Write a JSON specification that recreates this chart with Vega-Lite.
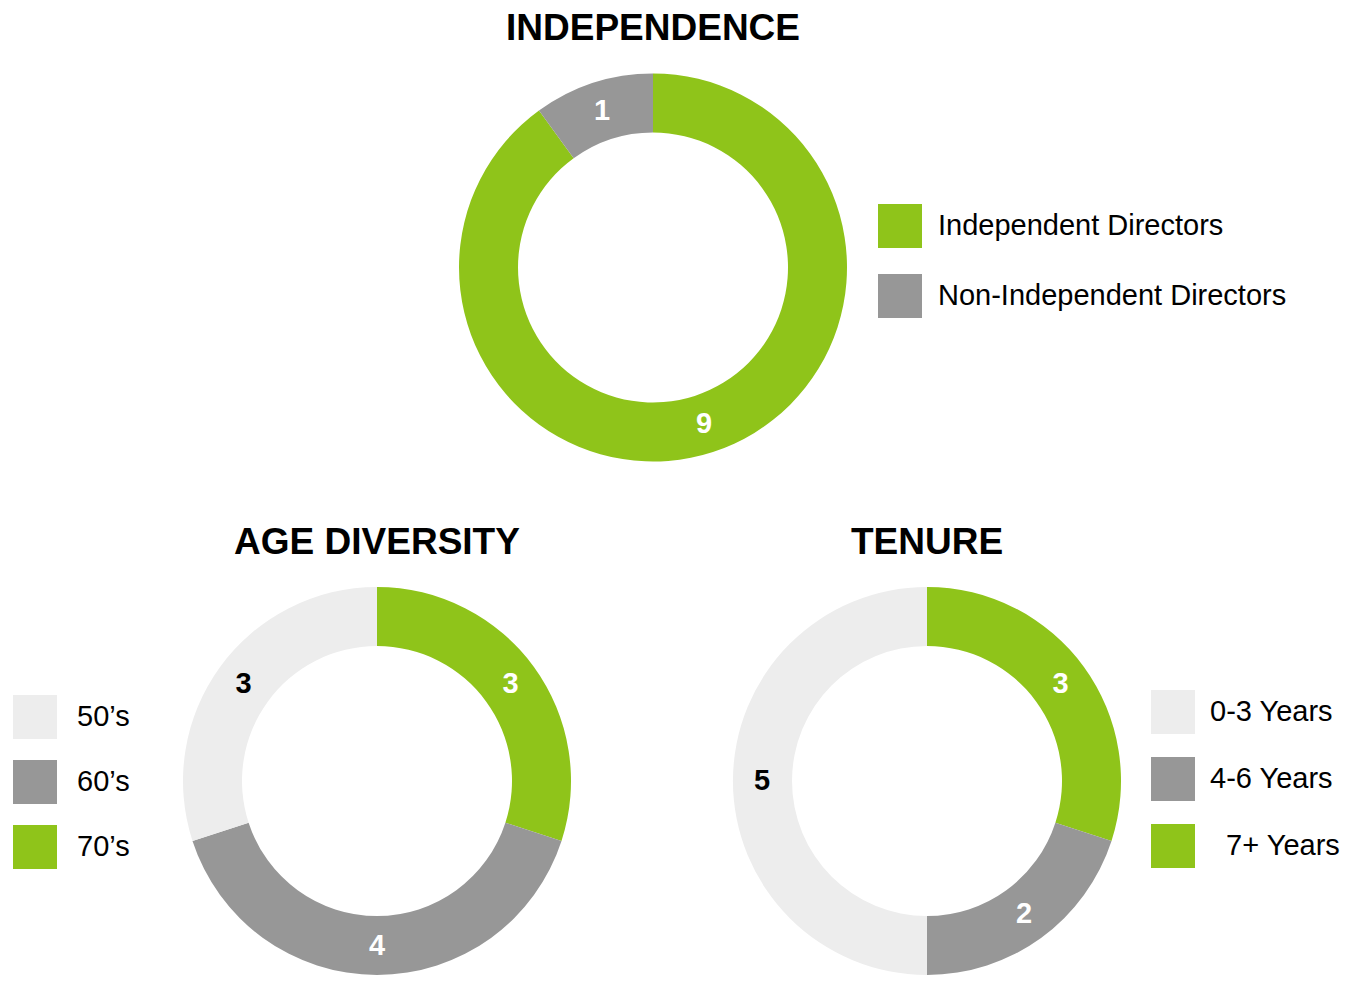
{
  "$schema": "https://vega.github.io/schema/vega-lite/v6.json",
  "background": "white",
  "padding": {"left": 13, "top": 10, "right": 0, "bottom": 0},
  "datasets": {
    "independence": [
      {"category": "Independent Directors", "value": 9, "order": 1},
      {"category": "Non-Independent Directors", "value": 1, "order": 2}
    ],
    "age": [
      {"category": "70’s", "value": 3, "order": 1},
      {"category": "60’s", "value": 4, "order": 2},
      {"category": "50’s", "value": 3, "order": 3}
    ],
    "tenure": [
      {"category": "7+ Years", "value": 3, "order": 1},
      {"category": "4-6 Years", "value": 2, "order": 2},
      {"category": "0-3 Years", "value": 5, "order": 3}
    ]
  },
  "spacing": 62,
  "resolve": {"scale": {"color": "independent", "theta": "independent"}, "legend": {"color": "independent"}},
  "vconcat": [
    {
      "width": 940,
      "height": 389,
      "title": {"text": "INDEPENDENCE"},
      "data": {"name": "independence"},
      "encoding": {
        "theta": {"field": "value", "type": "quantitative", "stack": true},
        "order": {"field": "order", "type": "quantitative"},
        "color": {
          "field": "category",
          "type": "nominal",
          "scale": {"domain": ["Independent Directors", "Non-Independent Directors"], "range": ["#8FC41A", "#979797"]},
          "legend": {"orient": "none", "legendX": 695, "legendY": 131, "rowPadding": 26, "labelOffset": 16}
        }
      },
      "layer": [
        {"mark": {"type": "arc", "innerRadius": 135, "outerRadius": 194}},
        {
          "mark": {"type": "text", "radius": 165, "font": "Liberation Sans", "fontSize": 29, "fontWeight": "bold", "align": "center", "baseline": "middle"},
          "encoding": {"text": {"field": "value", "type": "quantitative"}, "color": {"value": "white"}}
        }
      ]
    },
    {
      "spacing": 162,
      "resolve": {"scale": {"color": "independent", "theta": "independent"}, "legend": {"color": "independent"}},
      "hconcat": [
        {
          "width": 388,
          "height": 388,
          "title": {"text": "AGE DIVERSITY"},
          "data": {"name": "age"},
          "encoding": {
            "theta": {"field": "value", "type": "quantitative", "stack": true},
            "order": {"field": "order", "type": "quantitative"},
            "color": {
              "field": "category",
              "type": "nominal",
              "scale": {"domain": ["50’s", "60’s", "70’s"], "range": ["#EDEDED", "#979797", "#8FC41A"]},
              "legend": {"orient": "none", "legendX": -170, "legendY": 108, "rowPadding": 21, "labelOffset": 20}
            }
          },
          "layer": [
            {"mark": {"type": "arc", "innerRadius": 135, "outerRadius": 194}},
            {
              "mark": {"type": "text", "radius": 165, "font": "Liberation Sans", "fontSize": 29, "fontWeight": "bold", "align": "center", "baseline": "middle"},
              "encoding": {
                "text": {"field": "value", "type": "quantitative"},
                "color": {"condition": {"test": "datum.category === '50’s'", "value": "black"}, "value": "white"}
              }
            }
          ]
        },
        {
          "width": 388,
          "height": 388,
          "title": {"text": "TENURE"},
          "data": {"name": "tenure"},
          "encoding": {
            "theta": {"field": "value", "type": "quantitative", "stack": true},
            "order": {"field": "order", "type": "quantitative"},
            "color": {
              "field": "category",
              "type": "nominal",
              "scale": {"domain": ["0-3 Years", "4-6 Years", "7+ Years"], "range": ["#EDEDED", "#979797", "#8FC41A"]},
              "legend": {"orient": "none", "legendX": 418, "legendY": 103, "rowPadding": 23, "labelOffset": 15,
                "labelExpr": "indexof(datum.label, '7+') === 0 ? '\u200b\u00a0\u00a0' + datum.label : datum.label"}
            }
          },
          "layer": [
            {"mark": {"type": "arc", "innerRadius": 135, "outerRadius": 194}},
            {
              "mark": {"type": "text", "radius": 165, "font": "Liberation Sans", "fontSize": 29, "fontWeight": "bold", "align": "center", "baseline": "middle"},
              "encoding": {
                "text": {"field": "value", "type": "quantitative"},
                "color": {"condition": {"test": "datum.category === '0-3 Years'", "value": "black"}, "value": "white"}
              }
            }
          ]
        }
      ]
    }
  ],
  "config": {
    "view": {"stroke": null},
    "font": "Liberation Sans",
    "title": {"font": "Liberation Sans", "fontSize": 37, "fontWeight": "bold", "color": "black", "anchor": "middle", "frame": "group", "baseline": "alphabetic", "offset": 25},
    "legend": {
      "title": null,
      "padding": 0,
      "symbolType": "square",
      "symbolSize": 1936,
      "symbolStrokeWidth": 0,
      "labelFont": "Liberation Sans",
      "labelFontSize": 29,
      "labelColor": "black",
      "labelLimit": 600,
      "labelBaseline": "middle"
    },
    "arc": {"stroke": null}
  }
}
